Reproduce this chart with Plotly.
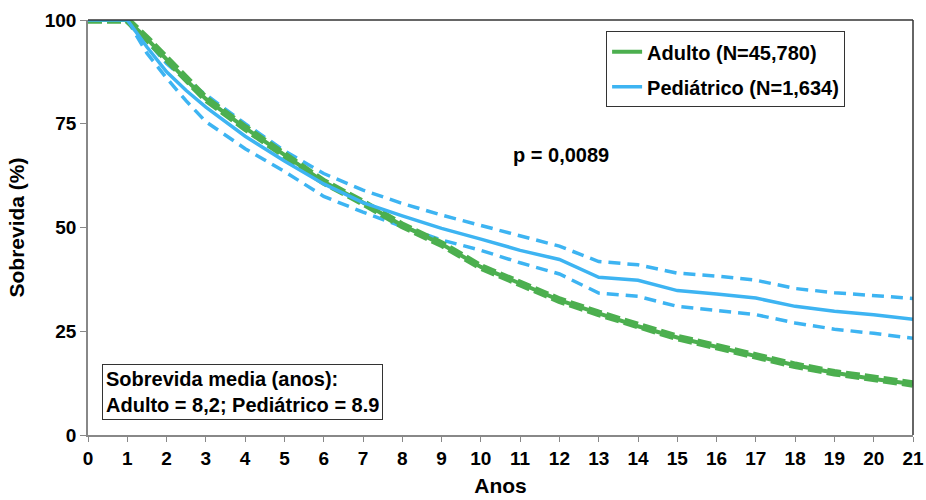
import plotly.graph_objects as go

years = [0, 1, 1.5, 2, 2.5, 3, 4, 5, 6, 7, 8, 9, 10, 11, 12, 13, 14, 15, 16, 17, 18, 19, 20, 21]
adulto = [100, 100, 95.5, 90.5, 85.5, 81, 74, 67.5, 61, 56, 50.5, 46, 40.5, 36.5, 32.5, 29.3, 26.2, 23.5, 21.3, 19, 16.8, 15, 13.5, 12.3]
ped = [100, 100, 93.5, 87.5, 83, 79, 72, 66, 60.5, 56, 52.8, 49.8, 47.2, 44.5, 42.3, 38, 37.3, 34.8, 34, 33, 31, 29.8, 29, 27.9]
ped_up = [100, 100, 95, 89.5, 85.5, 82, 75, 68.5, 63, 59, 55.8, 53, 50.5, 48, 45.5, 41.8, 41, 39, 38.3, 37.3, 35.3, 34.3, 33.7, 32.9]
ped_lo = [100, 100, 92, 86, 80.5, 75.5, 69, 63.5, 57.5, 53.7, 50.2, 47, 44.5, 41.5, 38.8, 34.2, 33.4, 31, 30, 29, 27, 25.5, 24.5, 23.3]

GREEN = "#4CAF4F"
BLUE = "#3DB4F2"
FONT = "Arial, Liberation Sans, sans-serif"

fig = go.Figure()
# Pediatric CI
for arr in (ped_up, ped_lo):
    fig.add_trace(go.Scatter(x=years, y=arr, mode="lines", showlegend=False,
                             line=dict(color=BLUE, width=3.5, dash="12px,7px")))
# Adult (line + overlapping CI dashes)
fig.add_trace(go.Scatter(x=years, y=adulto, mode="lines", showlegend=False,
                         line=dict(color=GREEN, width=7.5, dash="14px,5px")))
fig.add_trace(go.Scatter(x=years, y=adulto, mode="lines", name="<b>Adulto (N=45,780)</b>",
                         legendgroup="a", legendrank=1,
                         line=dict(color=GREEN, width=4)))
fig.add_trace(go.Scatter(x=years, y=ped, mode="lines", name="<b>Pediátrico (N=1,634)</b>",
                         legendgroup="p", legendrank=2,
                         line=dict(color=BLUE, width=3.5)))

fig.update_layout(
    width=926, height=500,
    margin=dict(l=88, r=13, t=20, b=65),
    paper_bgcolor="white", plot_bgcolor="white",
    font=dict(family=FONT, size=19, color="black"),
    legend=dict(x=0.628, y=0.973, xanchor="left", yanchor="top",
                bordercolor="#333", borderwidth=1, bgcolor="white",
                traceorder="grouped", tracegroupgap=6,
                font=dict(family=FONT, size=20, color="black"),
                itemwidth=30),
    xaxis=dict(range=[0, 21], tickmode="array", tickvals=list(range(22)),
               ticktext=[f"<b>{i}</b>" for i in range(22)],
               showgrid=False, zeroline=False, showline=True, linecolor="#888", linewidth=1.5,
               ticks="outside", ticklen=5, tickcolor="#888", automargin=False,
               tickfont=dict(size=19, family=FONT),
               title=dict(text="<b>Anos</b>", font=dict(size=21, family=FONT), standoff=11)),
    yaxis=dict(range=[0, 100], tickmode="array", tickvals=[0, 25, 50, 75, 100],
               ticktext=["<b>0</b>", "<b>25</b>", "<b>50</b>", "<b>75</b>", "<b>100</b>"],
               showgrid=False, zeroline=False, showline=True, linecolor="#888", linewidth=1.5,
               ticks="outside", ticklen=6, tickcolor="#888", automargin=False,
               tickfont=dict(size=19, family=FONT),
               title=dict(text="<b>Sobrevida (%)</b>", font=dict(size=21, family=FONT), standoff=14)),
    shapes=[
        dict(type="line", xref="paper", yref="paper", x0=0, x1=1, y0=1, y1=1,
             line=dict(color="#333", width=1.5)),
        dict(type="line", xref="paper", yref="paper", x0=1, x1=1, y0=0, y1=1,
             line=dict(color="#333", width=1.5)),
    ],
    annotations=[
        dict(text="<b>p = 0,0089</b>", x=0.573, y=0.675, xref="paper", yref="paper",
             xanchor="center", yanchor="middle",
             showarrow=False, font=dict(size=20, family=FONT)),
        dict(text="<b>Sobrevida media (anos):<br>Adulto = 8,2; Pediátrico = 8.9</b>",
             x=0.017, y=0.171, xref="paper", yref="paper", xanchor="left", yanchor="top",
             align="left", showarrow=False, bordercolor="#333", borderwidth=1,
             borderpad=3, bgcolor="white", font=dict(size=20, family=FONT)),
    ],
)

fig.write_html("out.html")
